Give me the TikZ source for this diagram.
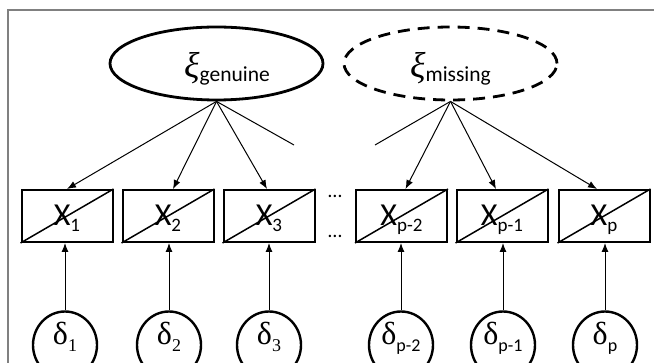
\documentclass[tikz,border=0pt]{standalone}
\usepackage{fontspec}
\setmainfont{Carlito}
\newfontfamily\deltafont{Liberation Serif}
\usetikzlibrary{arrows.meta,shapes.geometric}

% labels of the indicators, errors and latent factors
\newcommand\obslabel[1]{\fontsize{32}{32}\selectfont X\smash{\raisebox{-6pt}{\fontsize{19}{19}\selectfont #1}}}
\newcommand\errlabel[1]{{\deltafont\fontsize{32}{32}\selectfont δ}\smash{\raisebox{-7pt}{\fontsize{18}{18}\selectfont #1}}}
\newcommand\latlabel[1]{{\deltafont\itshape\fontsize{36}{36}\selectfont ξ}\smash{\raisebox{-4pt}{\fontsize{21.5}{21.5}\selectfont #1}}}

\tikzset{
  latent/.style={ellipse, draw, line width=2.8pt, minimum width=213pt, minimum height=73pt,
    inner sep=0pt, text height=29pt, text depth=0pt},
  indicator/.style={rectangle, draw, line width=2pt, minimum width=91pt, minimum height=52pt,
    inner sep=0pt, text height=20pt, text depth=0pt,
    append after command={\pgfextra{\draw[line width=1.5pt]
      (\tikzlastnode.south west) -- (\tikzlastnode.north east);}}},
  errnode/.style={ellipse, draw, line width=2.4pt, minimum width=64pt, minimum height=67pt, inner sep=0pt,
    text height=13pt, text depth=13pt},
  load/.style={line width=1pt, -{Latex[length=9pt,width=7pt]}},
  plainload/.style={line width=1pt},
  frameline/.style={draw=gray, line width=2pt},
  dotsnode/.style={font=\fontsize{20}{20}\selectfont, inner sep=0pt}
}

\begin{document}
\begin{tikzpicture}[x=1pt, y=-1pt]
  \useasboundingbox (0,0) rectangle (654,363);
  \begin{scope}
    \clip (0,0) rectangle (654,363);

    % frame
    \draw[frameline] (7.5,363) -- (7.5,10) -- (654,10);

    % latent factors
    \node[latent] (gen) at (216.5,63.5) {\hspace*{21pt}\latlabel{genuine}};
    \node[latent, dash pattern=on 12pt off 8pt] (mis) at (450.5,63.5) {\latlabel{missing}};

    % indicators
    \node[indicator] (x1) at (67,216) {\obslabel{1}};
    \node[indicator] (x2) at (168,216) {\obslabel{2}};
    \node[indicator] (x3) at (269,216) {\obslabel{3}};
    \node[indicator] (xp2) at (401.5,216) {\obslabel{p-2}};
    \node[indicator] (xp1) at (502,216) {\obslabel{p-1}};
    \node[indicator] (xp) at (604,216) {\obslabel{p}};

    \node[dotsnode] (dtop) at (335,196) {…};
    \node[dotsnode] (dbot) at (335,236) {…};

    % measurement errors
    \node[errnode] (d1) at (65,345) {\errlabel{\deltafont 1}};
    \node[errnode] (d2) at (169,345) {\errlabel{\deltafont 2}};
    \node[errnode] (d3) at (269,345) {\errlabel{\deltafont 3}};
    \node[errnode] (dp2) at (401,345) {\errlabel{p-2}};
    \node[errnode] (dp1) at (503,345) {\errlabel{p-1}};
    \node[errnode] (dp) at (605,345) {\errlabel{p}};

    % loose ends of the loadings towards the omitted indicators
    \coordinate (genend) at (294,145);
    \coordinate (misend) at (375,145);

    % loadings
    \draw[load] (gen.south) -- (x1.north);
    \draw[load] (gen.south) -- ([xshift=5pt]x2.north);
    \draw[load] (gen.south) -- ([xshift=-2pt]x3.north);
    \draw[plainload] (gen.south) -- (genend);
    \draw[plainload] (mis.south) -- (misend);
    \draw[load] (mis.south) -- ([xshift=4pt]xp2.north);
    \draw[load] (mis.south) -- ([xshift=-6pt]xp1.north);
    \draw[load] (mis.south) -- ([xshift=-7pt]xp.north);

    % error paths
    \foreach \d/\x in {d1/x1, d2/x2, d3/x3, dp2/xp2, dp1/xp1, dp/xp}
      \draw[load] (\d.north) -- (\d.north |- \x.south);
  \end{scope}
\end{tikzpicture}
\end{document}
